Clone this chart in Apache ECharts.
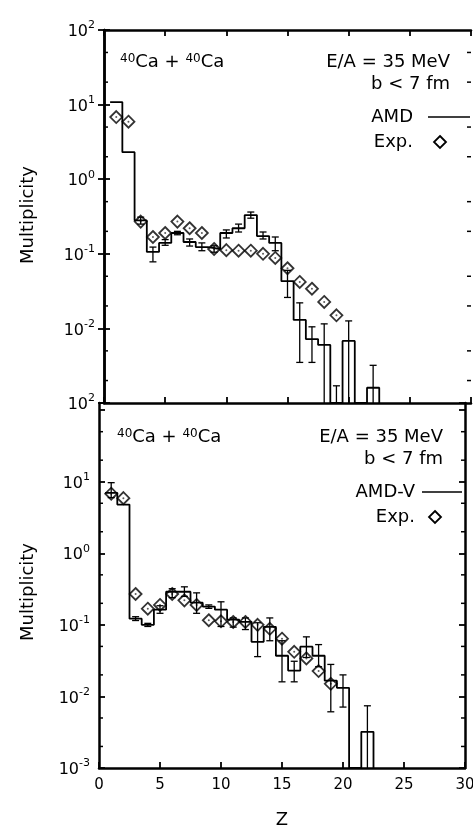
<!DOCTYPE html>
<html>
<head>
<meta charset="utf-8">
<script src="https://cdn.jsdelivr.net/npm/echarts@6/dist/echarts.min.js"></script>
<style>
  html, body { margin: 0; padding: 0; background: #fff; }
  #multiplicity { width: 473px; height: 825px; }
</style>
</head>
<body>
<div id="multiplicity"></div>
<script>
  // charge of the fragment, one bin per Z
  var zBins = [1, 2, 3, 4, 5, 6, 7, 8, 9, 10, 11, 12, 13, 14, 15, 16, 17, 18, 19, 20, 21, 22]

  // AMD (top panel), 0 = empty bin
  var amdValues = [10.8, 2.3, 0.28, 0.106, 0.14, 0.19, 0.144, 0.123, 0.116, 0.19, 0.22, 0.33,
                   0.173, 0.14, 0.043, 0.013, 0.0072, 0.006, 0, 0.0068, 0, 0.0016]
  var amdLow  = [null, null, 0.25, 0.078, 0.13, 0.18, 0.127, 0.11, 0.105, 0.163, 0.196, 0.30,
                 0.158, 0.11, 0.026, 0.0035, 0.0035, 0, 0, 0, null, 0]
  var amdHigh = [null, null, 0.31, 0.123, 0.155, 0.2, 0.158, 0.14, 0.128, 0.209, 0.25, 0.363,
                 0.196, 0.168, 0.06, 0.022, 0.0105, 0.0115, 0.0017, 0.0126, null, 0.0032]

  // AMD-V (bottom panel)
  var amdvValues = [7.0, 4.8, 0.122, 0.10, 0.163, 0.29, 0.29, 0.204, 0.18, 0.163, 0.118, 0.11,
                    0.058, 0.094, 0.037, 0.023, 0.0496, 0.037, 0.0166, 0.0132, 0, 0.0032]
  var amdvLow  = [6.0, null, 0.115, 0.095, 0.145, 0.24, 0.25, 0.145, 0.17, 0.095, 0.093, 0.086,
                  0.036, 0.06, 0.016, 0.016, 0.035, 0.026, 0.0061, 0.0071, null, 0]
  var amdvHigh = [9.7, null, 0.13, 0.105, 0.185, 0.32, 0.34, 0.28, 0.19, 0.21, 0.125, 0.125,
                  0.107, 0.125, 0.06, 0.031, 0.068, 0.053, 0.028, 0.020, null, 0.0074]

  // experiment, same data in both panels
  var expZ = [1, 2, 3, 4, 5, 6, 7, 8, 9, 10, 11, 12, 13, 14, 15, 16, 17, 18, 19]
  var expValues = [6.8, 5.9, 0.27, 0.168, 0.19, 0.27, 0.22, 0.19, 0.116, 0.112, 0.11, 0.11,
                   0.1, 0.088, 0.064, 0.042, 0.034, 0.0226, 0.015]

  // exponent labels for 1e-3 ... 1e2 (the top panel really prints 10^2 at the bottom)
  var topExpLabels = ['2', '-2', '-1', '0', '1', '2']
  var bottomExpLabels = ['-3', '-2', '-1', '0', '1', '']
  var minorMantissa = [2, 5]

  var FLOOR = 1e-3
  var FONT = 'DejaVu Sans'

  function stepPoints(vals) {
    var pts = []
    for (var i = 0; i < zBins.length; i++) {
      var v = vals[i] > 0 ? vals[i] : FLOOR
      pts.push([zBins[i] - 0.5, v], [zBins[i] + 0.5, v])
    }
    pts.push([zBins[zBins.length - 1] + 0.5, FLOOR])
    return pts
  }

  function errData(low, high) {
    var out = []
    for (var i = 0; i < zBins.length; i++) {
      if (high[i] == null) continue
      out.push([zBins[i], low[i] > FLOOR ? low[i] : FLOOR, high[i]])
    }
    return out
  }

  function minorData(maxExp) {
    var out = []
    for (var e = -3; e < maxExp; e++) {
      minorMantissa.forEach(function (m) { out.push([0, m * Math.pow(10, e)]) })
    }
    return out
  }

  function renderErr(params, api) {
    var z = api.value(0), lo = api.value(1), hi = api.value(2)
    var a = api.coord([z, hi]), b = api.coord([z, lo])
    var st = { stroke: '#000', lineWidth: 1.3 }
    var kids = [
      { type: 'line', shape: { x1: a[0], y1: a[1], x2: b[0], y2: b[1] }, style: st },
      { type: 'line', shape: { x1: a[0] - 3.5, y1: a[1], x2: a[0] + 3.5, y2: a[1] }, style: st }
    ]
    if (lo > FLOOR) {
      kids.push({ type: 'line', shape: { x1: b[0] - 3.5, y1: b[1], x2: b[0] + 3.5, y2: b[1] }, style: st })
    }
    return { type: 'group', children: kids }
  }

  function renderMinor(params, api) {
    var p = api.coord([0, api.value(1)])
    var cs = params.coordSys
    var st = { stroke: '#000', lineWidth: 1.5 }
    return { type: 'group', children: [
      { type: 'line', shape: { x1: cs.x, y1: p[1], x2: cs.x + 4, y2: p[1] }, style: st },
      { type: 'line', shape: { x1: cs.x + cs.width - 4, y1: p[1], x2: cs.x + cs.width, y2: p[1] }, style: st }
    ] }
  }

  function expLabel(list) {
    return function (value) {
      var l = Math.log10(value)
      var e = Math.round(l)
      if (Math.abs(l - e) > 0.01) return ''
      var s = list[e + 3]
      if (!s) return ''
      return '{b|10}{s|' + s + '}'
    }
  }

  var tickRich = {
    b: { fontFamily: FONT, fontSize: 16, lineHeight: 20, verticalAlign: 'bottom', color: '#000' },
    s: { fontFamily: FONT, fontSize: 11, lineHeight: 11, verticalAlign: 'top', color: '#000' }
  }

  function xAxisCfg(grid, pos, labels) {
    return {
      type: 'value', gridIndex: grid, position: pos, min: 0, max: 30, interval: 5,
      axisLine: { show: true, lineStyle: { color: '#000', width: 2.5 } },
      axisTick: { show: true, inside: true, length: 6, lineStyle: { color: '#000', width: 1.8 } },
      axisLabel: { show: labels, fontFamily: FONT, fontSize: 15, color: '#000', margin: 10 },
      splitLine: { show: false }
    }
  }

  function yAxisCfg(grid, pos, max, labels) {
    return {
      type: 'log', logBase: 10, gridIndex: grid, position: pos, min: FLOOR, max: max,
      axisLine: { show: true, lineStyle: { color: '#000', width: 2.5 } },
      axisTick: { show: true, inside: true, length: 6, lineStyle: { color: '#000', width: 1.8 } },
      axisLabel: labels ? { show: true, formatter: expLabel(labels), rich: tickRich, margin: 9 } : { show: false },
      splitLine: { show: false }
    }
  }

  var chart = echarts.init(document.getElementById('multiplicity'))
  var textStyle = { fontFamily: FONT, fontSize: 18, fill: '#000' }

  function panelText(top, model) {
    var mid = top.mid
    return [
      { type: 'text', x: top.caX, y: mid, style: { text: '{s|40}Ca + {s|40}Ca', fontFamily: FONT, fontSize: 18, fill: '#000', verticalAlign: 'middle',
        rich: { s: { fontFamily: FONT, fontSize: 12, verticalAlign: 'top', lineHeight: 12 } } } },
      { type: 'text', x: top.rx, y: mid, style: Object.assign({ text: 'E/A = 35 MeV', align: 'right', verticalAlign: 'middle' }, textStyle) },
      { type: 'text', x: top.rx, y: mid + 22, style: Object.assign({ text: 'b < 7 fm', align: 'right', verticalAlign: 'middle' }, textStyle) },
      { type: 'text', x: top.lx, y: top.lineY, style: Object.assign({ text: model, align: 'right', verticalAlign: 'middle' }, textStyle) },
      { type: 'line', shape: { x1: top.l1, y1: top.lineY, x2: top.l2, y2: top.lineY }, style: { stroke: '#000', lineWidth: 1.5 } },
      { type: 'text', x: top.lx, y: top.lineY + 25, style: Object.assign({ text: 'Exp.', align: 'right', verticalAlign: 'middle' }, textStyle) },
      { type: 'polygon', x: top.dx, y: top.lineY + 25, shape: { points: [[0, -6], [6, 0], [0, 6], [-6, 0]] },
        style: { fill: 'none', stroke: '#000', lineWidth: 1.8 } },
      { type: 'text', x: 28, y: top.nameY, rotation: Math.PI / 2,
        style: Object.assign({ text: 'Multiplicity', align: 'center', verticalAlign: 'middle' }, textStyle) }
    ]
  }

  var option = {
    animation: false,
    backgroundColor: '#fff',
    grid: [
      { left: 104, top: 30, width: 367, height: 373, outerBoundsMode: 'none' },
      { left: 99, top: 403, width: 366, height: 365, outerBoundsMode: 'none' }
    ],
    xAxis: [
      xAxisCfg(0, 'bottom', false),
      xAxisCfg(0, 'top', false),
      Object.assign(xAxisCfg(1, 'bottom', true), {
        name: 'Z', nameLocation: 'middle', nameGap: 43,
        nameTextStyle: { fontFamily: FONT, fontSize: 18, color: '#000' }
      })
    ],
    yAxis: [
      yAxisCfg(0, 'left', 100, topExpLabels),
      yAxisCfg(0, 'right', 100, null),
      yAxisCfg(1, 'left', Math.pow(10, 2.1), bottomExpLabels),
      yAxisCfg(1, 'right', Math.pow(10, 2.1), null)
    ],
    graphic: panelText({ mid: 62, caX: 120, rx: 450, lx: 413, lineY: 117, l1: 428, l2: 470, dx: 440, nameY: 215 }, 'AMD')
      .concat(panelText({ mid: 437, caX: 117, rx: 443, lx: 415, lineY: 492, l1: 422, l2: 462, dx: 435, nameY: 592 }, 'AMD-V')),
    series: [
      { type: 'line', xAxisIndex: 0, yAxisIndex: 0, data: stepPoints(amdValues), symbol: 'none',
        lineStyle: { color: '#000', width: 1.8 }, z: 2 },
      { type: 'custom', xAxisIndex: 0, yAxisIndex: 0, renderItem: renderErr, data: errData(amdLow, amdHigh), z: 4 },
      { type: 'scatter', xAxisIndex: 0, yAxisIndex: 0, symbol: 'diamond', symbolSize: [12, 12],
        data: expZ.map(function (z, i) { return [z, expValues[i]] }),
        itemStyle: { color: 'rgba(255,255,255,0)', borderColor: '#000', borderWidth: 1.8 }, z: 3 },
      { type: 'scatter', xAxisIndex: 0, yAxisIndex: 0, symbol: 'circle', symbolSize: 2,
        data: expZ.map(function (z, i) { return [z, expValues[i]] }), itemStyle: { color: '#333' }, z: 3 },
      { type: 'custom', xAxisIndex: 0, yAxisIndex: 0, renderItem: renderMinor, data: minorData(2), z: 5 },

      { type: 'line', xAxisIndex: 2, yAxisIndex: 2, data: stepPoints(amdvValues), symbol: 'none',
        lineStyle: { color: '#000', width: 1.8 }, z: 2 },
      { type: 'custom', xAxisIndex: 2, yAxisIndex: 2, renderItem: renderErr, data: errData(amdvLow, amdvHigh), z: 4 },
      { type: 'scatter', xAxisIndex: 2, yAxisIndex: 2, symbol: 'diamond', symbolSize: [12, 12],
        data: expZ.map(function (z, i) { return [z, expValues[i]] }),
        itemStyle: { color: 'rgba(255,255,255,0)', borderColor: '#000', borderWidth: 1.8 }, z: 3 },
      { type: 'scatter', xAxisIndex: 2, yAxisIndex: 2, symbol: 'circle', symbolSize: 2,
        data: expZ.map(function (z, i) { return [z, expValues[i]] }), itemStyle: { color: '#333' }, z: 3 },
      { type: 'custom', xAxisIndex: 2, yAxisIndex: 2, renderItem: renderMinor, data: minorData(2), z: 5 }
    ]
  }
  chart.setOption(option)
</script>
</body>
</html>
